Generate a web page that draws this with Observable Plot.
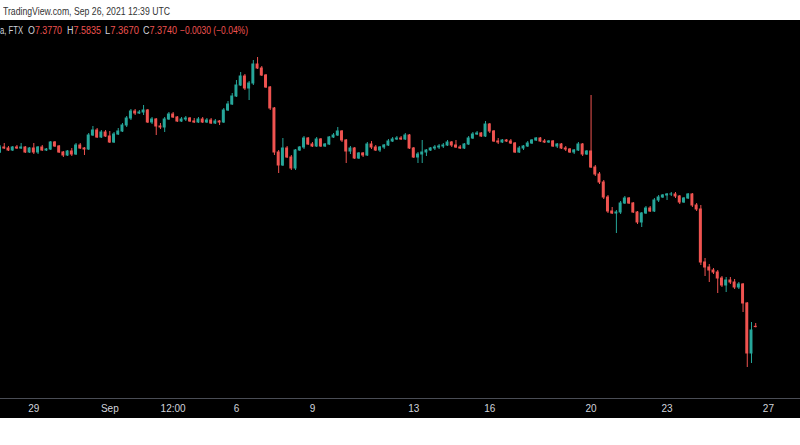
<!DOCTYPE html>
<html><head><meta charset="utf-8">
<script src="https://cdn.jsdelivr.net/npm/d3@7"></script>
<script src="https://cdn.jsdelivr.net/npm/@observablehq/plot@0.6"></script>
<style>
body{margin:0;background:#fff;width:800px;height:445px;overflow:hidden;font-family:"Liberation Sans",Arial,sans-serif;}
#top{height:20px;position:relative;color:#333;font-size:11px;}
.fit{position:absolute;white-space:pre;transform-origin:0 50%;line-height:12px;}
#chart{position:relative;width:800px;height:398px;background:#000;}
#legend{position:absolute;left:0;top:0;width:800px;height:20px;font-size:10px;color:#d1d4dc;}
#legend .v{color:#ef5350}
#sep{position:absolute;left:0;top:378px;width:800px;height:1px;background:#4a4d55;}
</style></head>
<body>
<div id="top"><span class="fit" data-w="167" style="left:3px;top:5px">TradingView.com, Sep 26, 2021 12:39 UTC</span></div>
<div id="chart"><div id="legend"></div><div id="sep"></div></div>
<script>
// 4h candles, first one Aug 27 2021 16:00 UTC
const startTime = Date.UTC(2021, 7, 27, 16);
const stepMs = 4 * 3600 * 1000;

const open = [
9.12,9.17,9.16,9.14,9.17,9.16,9.17,9.12,9.16,9.12,
9.17,9.14,9.15,9.22,9.18,9.12,9.09,9.13,9.10,9.19,
9.16,9.15,9.29,9.34,9.27,9.32,9.28,9.22,9.30,9.33,
9.39,9.46,9.53,9.51,9.52,9.54,9.42,9.45,9.38,9.37,
9.45,9.50,9.47,9.43,9.45,9.46,9.43,9.42,9.45,9.42,
9.44,9.41,9.43,9.42,9.54,9.60,9.68,9.79,9.88,9.76,
9.81,10.00,9.96,9.89,9.77,9.56,9.12,8.99,9.16,9.07,
8.96,9.14,9.17,9.26,9.20,9.18,9.25,9.18,9.20,9.27,
9.29,9.33,9.24,9.13,9.16,9.06,9.11,9.09,9.20,9.17,
9.14,9.17,9.19,9.23,9.25,9.26,9.25,9.29,9.16,9.07,
9.10,9.12,9.14,9.16,9.17,9.18,9.19,9.22,9.19,9.17,
9.16,9.20,9.26,9.30,9.31,9.28,9.40,9.33,9.23,9.22,
9.24,9.23,9.21,9.12,9.16,9.18,9.21,9.24,9.26,9.23,
9.22,9.23,9.18,9.20,9.16,9.15,9.12,9.14,9.20,9.10,
9.13,8.97,8.90,8.82,8.67,8.53,8.51,8.52,8.61,8.66,
8.61,8.52,8.42,8.51,8.56,8.53,8.64,8.67,8.69,8.70,
8.70,8.68,8.62,8.66,8.70,8.59,8.55,8.02,7.97,7.94,
7.92,7.86,7.79,7.84,7.82,7.77,7.80,7.61,7.11,7.377];

const high = [
9.19,9.21,9.18,9.18,9.19,9.21,9.18,9.17,9.21,9.18,
9.19,9.16,9.23,9.23,9.19,9.13,9.14,9.16,9.21,9.21,
9.17,9.31,9.38,9.36,9.34,9.34,9.33,9.32,9.36,9.41,
9.48,9.55,9.55,9.54,9.59,9.55,9.47,9.46,9.41,9.47,
9.52,9.52,9.48,9.47,9.48,9.47,9.46,9.47,9.47,9.46,
9.46,9.45,9.44,9.56,9.63,9.71,9.84,9.92,9.90,9.83,
10.04,10.07,9.98,9.90,9.78,9.57,9.14,9.26,9.18,9.09,
9.15,9.18,9.28,9.27,9.22,9.27,9.26,9.21,9.28,9.31,
9.37,9.34,9.25,9.18,9.17,9.12,9.12,9.22,9.23,9.19,
9.18,9.20,9.25,9.27,9.28,9.28,9.31,9.30,9.17,9.12,
9.24,9.15,9.17,9.19,9.20,9.21,9.24,9.23,9.24,9.19,
9.21,9.28,9.32,9.33,9.32,9.43,9.41,9.34,9.26,9.25,
9.25,9.25,9.22,9.18,9.19,9.23,9.25,9.27,9.27,9.25,
9.24,9.24,9.21,9.21,9.18,9.16,9.15,9.22,9.21,9.14,
9.69,8.99,8.92,8.84,8.69,8.57,8.54,8.63,8.68,8.67,
8.62,8.53,8.52,8.58,8.58,8.66,8.69,8.70,8.71,8.72,
8.72,8.69,8.67,8.71,8.71,8.61,8.59,8.06,8.00,7.96,
7.94,7.88,7.87,7.87,7.85,7.82,7.81,7.62,7.42,7.41];

const low = [
9.11,9.15,9.13,9.13,9.15,9.15,9.11,9.11,9.10,9.10,
9.13,9.13,9.14,9.17,9.11,9.07,9.08,9.08,9.09,9.15,
9.09,9.14,9.28,9.26,9.26,9.27,9.21,9.21,9.29,9.32,
9.37,9.44,9.49,9.50,9.49,9.41,9.40,9.29,9.35,9.32,
9.44,9.46,9.42,9.42,9.43,9.42,9.41,9.41,9.41,9.41,
9.40,9.40,9.39,9.41,9.53,9.59,9.67,9.78,9.74,9.64,
9.79,9.95,9.88,9.76,9.54,9.09,8.91,8.98,9.06,8.94,
8.94,9.13,9.15,9.19,9.17,9.17,9.17,9.17,9.19,9.26,
9.28,9.22,9.01,9.10,9.05,9.05,9.07,9.08,9.15,9.13,
9.12,9.15,9.18,9.22,9.24,9.24,9.24,9.15,9.06,9.01,
9.01,9.08,9.13,9.14,9.15,9.16,9.18,9.17,9.16,9.15,
9.15,9.19,9.25,9.29,9.27,9.27,9.31,9.22,9.20,9.21,
9.22,9.20,9.11,9.11,9.14,9.17,9.20,9.23,9.22,9.21,
9.21,9.17,9.16,9.15,9.13,9.11,9.10,9.13,9.08,9.09,
8.96,8.88,8.80,8.65,8.51,8.50,8.31,8.50,8.60,8.60,
8.51,8.40,8.37,8.50,8.52,8.52,8.62,8.66,8.64,8.68,
8.66,8.60,8.61,8.65,8.57,8.53,7.99,7.88,7.82,7.90,
7.71,7.77,7.72,7.80,7.75,7.75,7.52,6.97,7.01,7.367];

const close = [
9.17,9.16,9.14,9.17,9.16,9.17,9.12,9.16,9.12,9.17,
9.14,9.15,9.22,9.18,9.12,9.09,9.13,9.10,9.19,9.16,
9.15,9.29,9.34,9.27,9.32,9.28,9.22,9.30,9.33,9.39,
9.46,9.53,9.51,9.52,9.54,9.42,9.45,9.38,9.37,9.45,
9.50,9.47,9.43,9.45,9.46,9.43,9.42,9.45,9.42,9.44,
9.41,9.43,9.42,9.54,9.60,9.68,9.79,9.88,9.76,9.81,
10.00,9.96,9.89,9.77,9.56,9.12,8.99,9.16,9.07,8.96,
9.14,9.17,9.26,9.20,9.18,9.25,9.18,9.20,9.27,9.29,
9.33,9.24,9.13,9.16,9.06,9.11,9.09,9.20,9.17,9.14,
9.17,9.19,9.23,9.25,9.26,9.25,9.29,9.16,9.07,9.10,
9.12,9.14,9.16,9.17,9.18,9.19,9.22,9.19,9.17,9.16,
9.20,9.26,9.30,9.31,9.28,9.40,9.33,9.23,9.22,9.24,
9.23,9.21,9.12,9.16,9.18,9.21,9.24,9.26,9.23,9.22,
9.23,9.18,9.20,9.16,9.15,9.12,9.14,9.20,9.10,9.13,
8.97,8.90,8.82,8.67,8.53,8.51,8.52,8.61,8.66,8.61,
8.52,8.42,8.51,8.56,8.53,8.64,8.67,8.69,8.70,8.70,
8.68,8.62,8.66,8.70,8.59,8.55,8.02,7.97,7.94,7.92,
7.86,7.79,7.84,7.82,7.77,7.80,7.61,7.11,7.34,7.374];

const tickDates = [
  Date.UTC(2021,7,29), Date.UTC(2021,8,1), Date.UTC(2021,8,3,12), Date.UTC(2021,8,6),
  Date.UTC(2021,8,9), Date.UTC(2021,8,13), Date.UTC(2021,8,16), Date.UTC(2021,8,20),
  Date.UTC(2021,8,23), Date.UTC(2021,8,27)];
const tickLabels = ["29","Sep","12:00","6","9","13","16","20","23","27"];

const legendName = "a, FTX";
const legendKeys = ["O","H","L","C"];
const legendVals = ["7.3770","7.5835","7.3670","7.3740"];
const legendChange = "\u22120.0030 (\u22120.04%)";

const candles = open.map((o, i) => ({
  t: new Date(startTime + i * stepMs), o, h: high[i], l: low[i], c: close[i]
}));

const up = "#26a69a", down = "#ef5350";
const col = d => d.c >= d.o ? up : down;
const day = 86400000;
const pxPerDay = 25.33;
const sep1 = Date.UTC(2021, 8, 1);
const xDomain = [new Date(sep1 - 109.3 / pxPerDay * day), new Date(sep1 + (800 - 109.3) / pxPerDay * day)];
const half = 1.4 * 3600 * 1000;
const labelMap = new Map(tickDates.map((d, i) => [d, tickLabels[i]]));

const chart = Plot.plot({
  width: 800, height: 398,
  marginTop: 0, marginBottom: 20, marginLeft: 0, marginRight: 0,
  style: {background: "#000", color: "#d1d4dc", fontSize: "10px", fontFamily: "'Liberation Sans', Arial, sans-serif"},
  x: {type: "utc", domain: xDomain, label: null},
  y: {domain: [6.66, 10.44], axis: null},
  color: {type: "identity"},
  marks: [
    Plot.ruleX(candles, {x: "t", y1: "l", y2: "h", stroke: col, strokeWidth: 1}),
    Plot.rect(candles, {
      x1: d => new Date(+d.t - half), x2: d => new Date(+d.t + half),
      y1: "o", y2: "c", fill: col, insetTop: -0.5, insetBottom: -0.5
    }),
    Plot.axisX(tickDates.map(d => new Date(d)), {
      tickSize: 0, tickPadding: 6, fill: "#d1d4dc", label: null,
      tickFormat: d => labelMap.get(+d)
    })
  ]
});
chart.style.display = "block";
document.getElementById("chart").prepend(chart);

// legend
const lg = document.getElementById("legend");
function addFit(html, left, w, top) {
  const s = document.createElement("span");
  s.className = "fit";
  s.innerHTML = html;
  s.style.left = left + "px";
  s.style.top = top + "px";
  s.dataset.w = w;
  lg.appendChild(s);
}
addFit(legendName, 0, 23, 5);
const lefts = [28, 67, 105, 143];
legendKeys.forEach((k, i) => addFit(k + '<span class="v">' + legendVals[i] + '</span>', lefts[i], 34, 5));
addFit('<span class="v">' + legendChange + '</span>', 180, 68, 5);

document.querySelectorAll(".fit").forEach(el => {
  const w = el.getBoundingClientRect().width;
  const target = +el.dataset.w;
  if (w > 0) el.style.transform = "scaleX(" + (target / w) + ")";
});
</script>
</body></html>
